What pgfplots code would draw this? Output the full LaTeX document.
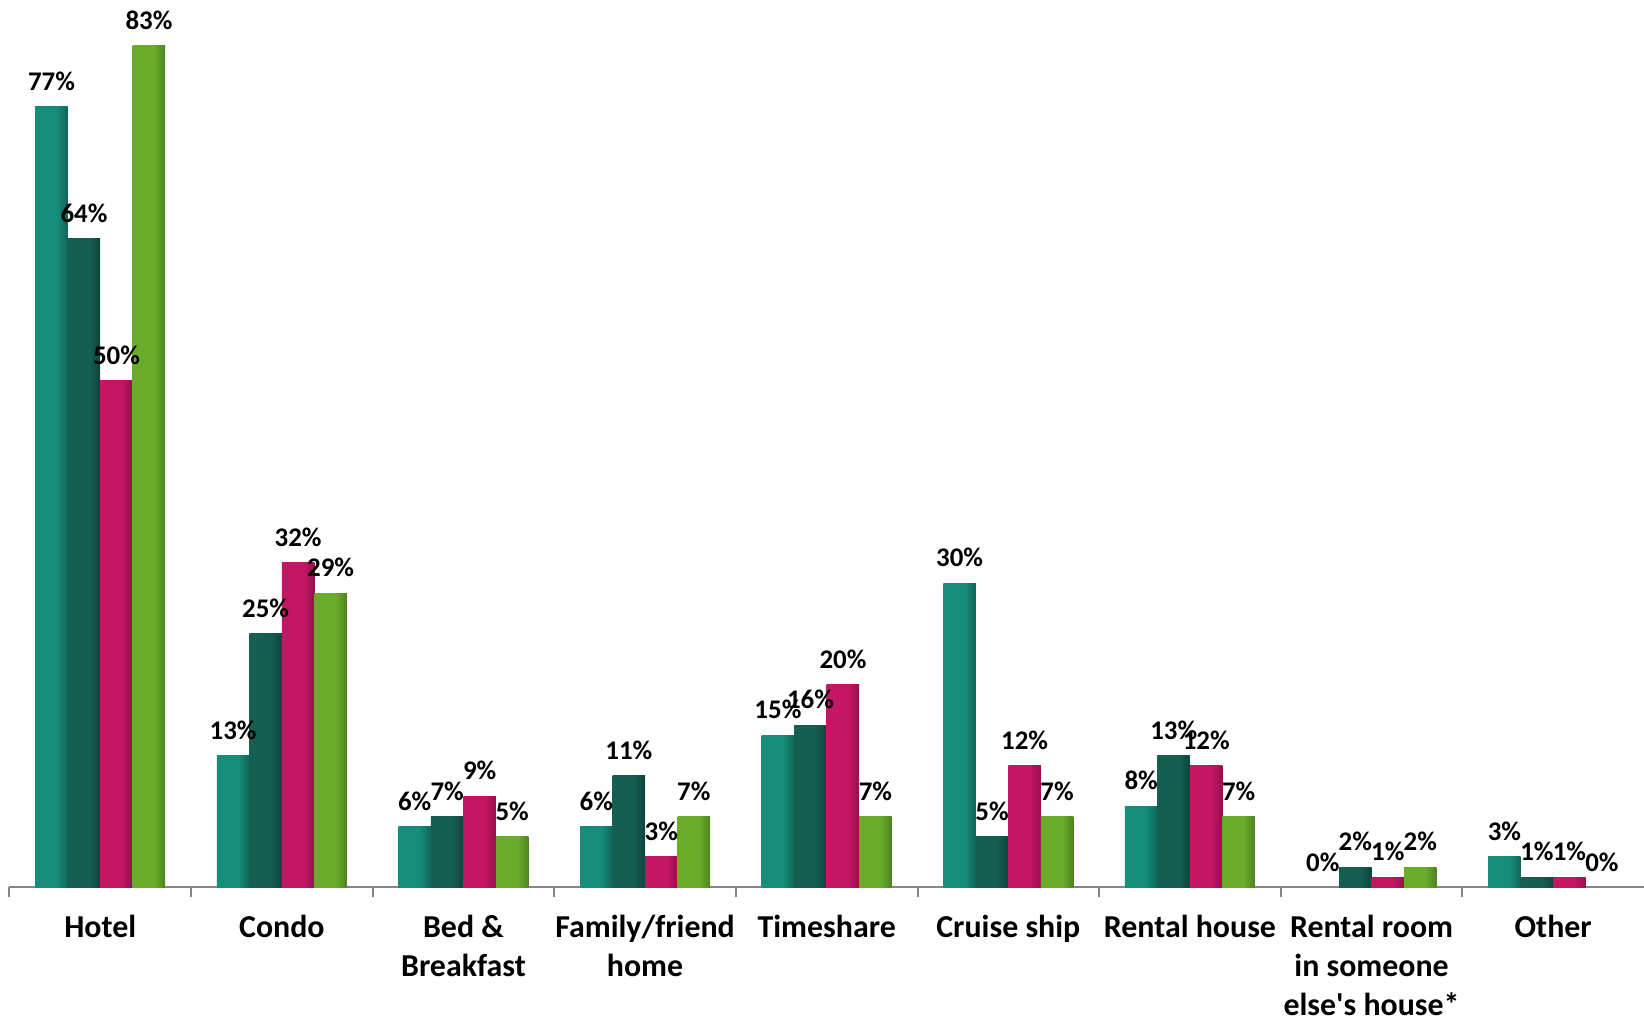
\documentclass[border=0pt]{standalone}
\usepackage{pgfplots}
\pgfplotsset{compat=1.18}
\usepackage{fontspec}
\setmainfont{Carlito}
\definecolor{c1}{RGB}{22,140,122}
\definecolor{c2}{RGB}{20,94,82}
\definecolor{c3}{RGB}{196,22,100}
\definecolor{c4}{RGB}{104,172,42}
\definecolor{axgray}{RGB}{134,134,134}
\pgfdeclarehorizontalshading{sh1}{100bp}{color(0bp)=(c1!80!black); color(10bp)=(c1); color(58bp)=(c1); color(82bp)=(c1!60!black); color(100bp)=(c1!30!black)}
\pgfdeclarehorizontalshading{sh2}{100bp}{color(0bp)=(c2!80!black); color(10bp)=(c2); color(58bp)=(c2); color(82bp)=(c2!60!black); color(100bp)=(c2!30!black)}
\pgfdeclarehorizontalshading{sh3}{100bp}{color(0bp)=(c3!80!black); color(10bp)=(c3); color(58bp)=(c3); color(82bp)=(c3!65!black); color(100bp)=(c3!40!black)}
\pgfdeclarehorizontalshading{sh4}{100bp}{color(0bp)=(c4!80!black); color(10bp)=(c4); color(58bp)=(c4); color(82bp)=(c4!65!black); color(100bp)=(c4!40!black)}
\begin{document}
\begin{tikzpicture}
\begin{axis}[
  width=817bp, height=443.5bp, scale only axis,
  xmin=-0.5, xmax=8.5, ymin=0, ymax=87.5,
  hide y axis,
  axis x line*=bottom,
  x axis line style={-, axgray, line width=1bp},
  xtick={0,...,8},
  xticklabels={Hotel, Condo, {Bed \&\\Breakfast}, {Family/friend\\home}, Timeshare, Cruise ship, Rental house, {Rental room\\in someone\\else\textquotesingle s house*}, Other},
  major tick length=0pt,
  minor xtick={-0.5,0.5,...,7.5},
  minor tick length=5bp,
  tick align=outside,
  minor tick style={axgray, line width=1bp},
  xticklabel style={font=\bfseries\fontsize{16}{19.4}\selectfont, align=center, anchor=north, yshift=-10.5bp},
  ybar=0pt, bar width=16.25bp,
  nodes near coords,
  /pgf/number format/assume math mode=true,
  nodes near coords={\pgfmathprintnumber{\pgfplotspointmeta}\%},
  every node near coord/.append style={font=\bfseries\fontsize{13.5}{16}\selectfont, text=black, yshift=4.5bp},
  s1/.style={draw=none, shade, shading=sh1, bar shift=-24.375bp},
  s2/.style={draw=none, shade, shading=sh2, bar shift=-8.125bp},
  s3/.style={draw=none, shade, shading=sh3, bar shift=8.125bp},
  s4/.style={draw=none, shade, shading=sh4, bar shift=24.375bp},
]
% series 1
\addplot[s1] coordinates {(0,77)};
\addplot[s1] coordinates {(1,13)};
\addplot[s1] coordinates {(2,6)};
\addplot[s1] coordinates {(3,6)};
\addplot[s1] coordinates {(4,15)};
\addplot[s1] coordinates {(5,30)};
\addplot[s1] coordinates {(6,8)};
\addplot[s1] coordinates {(7,0)};
\addplot[s1] coordinates {(8,3)};
% series 2
\addplot[s2] coordinates {(0,64)};
\addplot[s2] coordinates {(1,25)};
\addplot[s2] coordinates {(2,7)};
\addplot[s2] coordinates {(3,11)};
\addplot[s2] coordinates {(4,16)};
\addplot[s2] coordinates {(5,5)};
\addplot[s2] coordinates {(6,13)};
\addplot[s2] coordinates {(7,2)};
\addplot[s2] coordinates {(8,1)};
% series 3
\addplot[s3] coordinates {(0,50)};
\addplot[s3] coordinates {(1,32)};
\addplot[s3] coordinates {(2,9)};
\addplot[s3] coordinates {(3,3)};
\addplot[s3] coordinates {(4,20)};
\addplot[s3] coordinates {(5,12)};
\addplot[s3] coordinates {(6,12)};
\addplot[s3] coordinates {(7,1)};
\addplot[s3] coordinates {(8,1)};
% series 4
\addplot[s4] coordinates {(0,83)};
\addplot[s4] coordinates {(1,29)};
\addplot[s4] coordinates {(2,5)};
\addplot[s4] coordinates {(3,7)};
\addplot[s4] coordinates {(4,7)};
\addplot[s4] coordinates {(5,7)};
\addplot[s4] coordinates {(6,7)};
\addplot[s4] coordinates {(7,2)};
\addplot[s4] coordinates {(8,0)};
\coordinate (ll) at (rel axis cs:0,0);
\coordinate (ur) at (rel axis cs:1,1);
\end{axis}
\pgfresetboundingbox
\path[use as bounding box] ([xshift=-4.7bp,yshift=-67.5bp]ll) rectangle (ur);
\end{tikzpicture}
\end{document}
